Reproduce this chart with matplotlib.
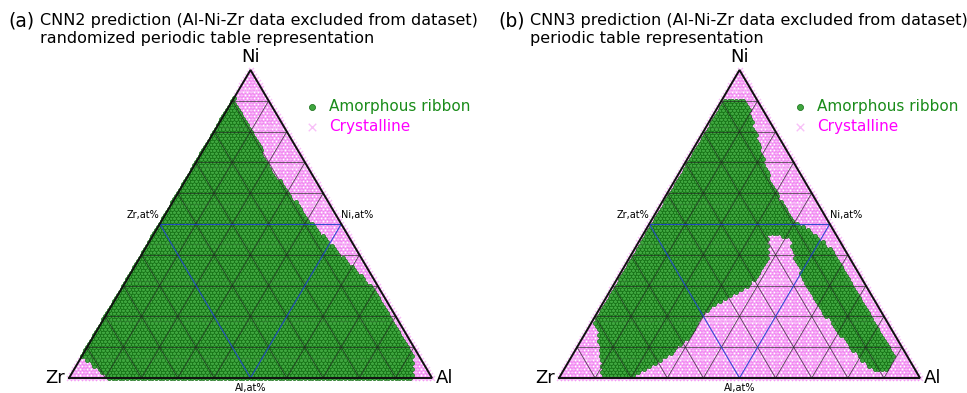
import numpy as np
import matplotlib
matplotlib.use("Agg")
import matplotlib.pyplot as plt
from matplotlib.path import Path

# ---------------------------------------------------------------------------
# Data: boundaries of the predicted amorphous-ribbon region, vertices given
# as (Al at%, Ni at%); Zr makes up the balance. Every composition on the
# 1 at% grid inside a boundary is predicted amorphous, the rest crystalline.
# ---------------------------------------------------------------------------
STEP = 1  # composition grid step, at%

cnn2_al = [10.5, 94.5, 90.5, 87, 81, 68, 53, 42, 34, 22, 10, 0, 0, 5]
cnn2_ni = [0, 0, 8.5, 11, 17, 30, 41.5, 50, 57, 67.5, 80.5, 91, 7, 4]

cnn3_al = [0, 6, 14, 22.5, 32, 40, 47, 55, 65, 75, 83, 89, 89.3, 86.5,
           80.5, 69, 58, 49, 41.6, 38, 34.6, 38.5, 39, 36, 31, 29, 30,
           27, 19.7, 12, 7.6, 2.7, 0]
cnn3_ni = [91, 91, 80.5, 69, 58, 50.6, 47, 41.6, 32, 22, 14, 7.5, 2, 2,
           6, 15.6, 25, 35, 44.8, 46.4, 46, 38.3, 32.5, 28, 23.7, 19.5,
           15.6, 7.5, 0, 0, 7.5, 15.6, 18.8]

titles = [("(a)", "CNN2 prediction (Al-Ni-Zr data excluded from dataset)",
           "randomized periodic table representation"),
          ("(b)", "CNN3 prediction (Al-Ni-Zr data excluded from dataset)",
           "periodic table representation")]
corner_labels = ("Zr", "Al", "Ni")
edge_labels = ("Zr,at%", "Ni,at%", "Al,at%")
class_labels = ("Amorphous ribbon", "Crystalline")

# ---------------------------------------------------------------------------
H = np.sqrt(3) / 2
W_PX, H_PX = 967, 393


def to_xy(al, ni):
    al = np.asarray(al, float) / 100.0
    ni = np.asarray(ni, float) / 100.0
    return al + ni / 2.0, ni * H


# all grid compositions
grid_al, grid_ni = [], []
for ni in range(0, 101, STEP):
    for al in range(0, 101 - ni, STEP):
        grid_al.append(al)
        grid_ni.append(ni)
grid_al = np.array(grid_al)
grid_ni = np.array(grid_ni)
gx, gy = to_xy(grid_al, grid_ni)

fig = plt.figure(figsize=(W_PX / 100, H_PX / 100), dpi=100)

GREEN_FACE = "#3fa63f"
GREEN_EDGE = "#0f6a0f"
PINK = "#ee5cee"


def draw_panel(left_px, width_px, poly_al, poly_ni, title, legend_x):
    bottom_px, tri_h_px = 15, 308
    ax = fig.add_axes([left_px / W_PX, bottom_px / H_PX,
                       width_px / W_PX, tri_h_px / H_PX])
    ax.set_xlim(0, 1)
    ax.set_ylim(0, H)
    ax.axis("off")

    px, py = to_xy(poly_al, poly_ni)
    inside = Path(np.column_stack([px, py])).contains_points(
        np.column_stack([gx, gy]), radius=1e-9)

    crys = ax.scatter(gx[~inside], gy[~inside], marker="x", s=13,
                      color=PINK, alpha=0.38, linewidths=1.0,
                      clip_on=False, zorder=1)
    amor = ax.scatter(gx[inside], gy[inside], marker="o", s=8.5,
                      facecolor=GREEN_FACE, edgecolor=GREEN_EDGE,
                      linewidths=0.5, clip_on=False, zorder=2)

    # 10 at% grid lines, 50 at% lines in blue
    for k in range(1, 10):
        f = k / 10.0
        col, lw, al_ = ("#2040d0", 0.8, 0.9) if k == 5 else ("#202020", 0.6, 0.75)
        # constant Ni
        ax.plot([f / 2, 1 - f / 2], [f * H, f * H], color=col, lw=lw,
                alpha=al_, zorder=3)
        # constant Al
        ax.plot([f, f + (1 - f) / 2], [0, (1 - f) * H], color=col, lw=lw,
                alpha=al_, zorder=3)
        # constant Zr
        ax.plot([1 - f, (1 - f) / 2], [0, (1 - f) * H], color=col, lw=lw,
                alpha=al_, zorder=3)

    ax.plot([0, 1, 0.5, 0], [0, 0, H, 0], color="#111111", lw=1.4,
            zorder=4, clip_on=False, solid_joinstyle="miter")

    ax.text(-0.012, 0, corner_labels[0], ha="right", va="center",
            fontsize=13)
    ax.text(1.012, 0, corner_labels[1], ha="left", va="center", fontsize=13)
    ax.text(0.5, H + 0.012, corner_labels[2], ha="center", va="bottom",
            fontsize=13)
    ax.text(0.25, H / 2 + 0.01, edge_labels[0], ha="right", va="bottom",
            fontsize=7)
    ax.text(0.75, H / 2 + 0.01, edge_labels[1], ha="left", va="bottom",
            fontsize=7)
    ax.text(0.5, -0.015, edge_labels[2], ha="center", va="top", fontsize=7)

    tag, line1, line2 = title
    fig.text((left_px - 61) / W_PX, 1 - 21 / H_PX, tag, fontsize=13.5,
             va="center", ha="left")
    fig.text((left_px - 29) / W_PX, 1 - 21 / H_PX, line1, fontsize=11.5,
             va="center", ha="left")
    fig.text((left_px - 29) / W_PX, 1 - 39 / H_PX, line2, fontsize=11.5,
             va="center", ha="left")

    leg = fig.legend([amor, crys], class_labels, loc="upper left",
                     bbox_to_anchor=(legend_x / W_PX, 1 - 99 / H_PX),
                     frameon=False, fontsize=11, handlelength=0.9,
                     handletextpad=0.7, labelspacing=0.35, borderpad=0,
                     borderaxespad=0, markerscale=1.5)
    texts = leg.get_texts()
    texts[0].set_color("#1a8c1a")
    texts[1].set_color("#ff00ff")


draw_panel(69, 363, cnn2_al, cnn2_ni, titles[0], 305)
draw_panel(559, 361, cnn3_al, cnn3_ni, titles[1], 793)

fig.savefig("out.png", dpi=100)
